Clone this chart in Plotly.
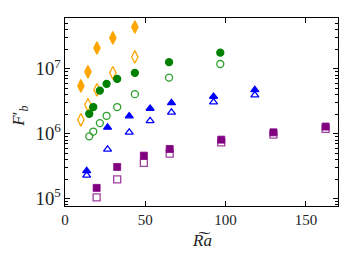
import plotly.graph_objects as go

# Orange diamonds
or_x = [9.9, 14.3, 19.9, 29.8, 43.5]
or_filled = [5.47e6, 9.0e6, 2.1e7, 3.0e7, 4.43e7]
or_open = [1.64e6, 2.79e6, 4.75e6, 8.7e6, 1.53e7]

# Green circles
gr_x = [15.1, 17.6, 21.7, 25.9, 32.5, 43.5, 64.8, 96.7]
gr_filled = [2.03e6, 2.58e6, 4.63e6, 5.88e6, 7.0e6, 8.7e6, 1.27e7, 1.78e7]
gr_open = [9.1e5, 1.08e6, 1.46e6, 1.89e6, 2.58e6, 4.08e6, 7.35e6, 1.19e7]

# Blue triangles
bl_x = [13.5, 26.5, 40.0, 53.0, 66.3, 92.5, 118.2]
bl_filled = [2.67e5, 1.25e6, 1.87e6, 2.45e6, 3.0e6, 3.75e6, 4.75e6]
bl_open = [2.28e5, 5.73e5, 1.05e6, 1.58e6, 2.13e6, 3.08e6, 3.94e6]

# Purple squares
pu_x = [19.7, 32.5, 49.1, 65.2, 97.3, 129.8, 162.3]
pu_filled = [1.46e5, 3.07e5, 4.59e5, 5.82e5, 8.1e5, 1.05e6, 1.29e6]
pu_open = [1.04e5, 1.98e5, 3.54e5, 4.92e5, 7.35e5, 9.7e5, 1.19e6]

x_label = "<i>R͠a</i>"
y_label = "<i>F</i>′<sub><i>b</i></sub>"

fig = go.Figure()

def add(x, y, symbol, color, size, lw=1.3):
    fig.add_trace(go.Scatter(x=x, y=y, mode="markers",
                             marker=dict(symbol=symbol, color=color, size=size,
                                         line=dict(color=color, width=lw)),
                             showlegend=False))

add(or_x, or_open, "diamond-tall-open", "#FFA500", 9)
add(or_x, or_filled, "diamond-tall", "#FFA500", 9)
add(gr_x, gr_open, "circle-open", "#2ca02c", 7)
add(gr_x, gr_filled, "circle", "#008000", 7)
add(bl_x, bl_open, "triangle-up-open", "#0000FF", 7)
add(bl_x, bl_filled, "triangle-up", "#0000FF", 7)
add(pu_x, pu_open, "square-open", "#a040a0", 7)
add(pu_x, pu_filled, "square", "#800080", 7, lw=0.8)

font = dict(family="Liberation Serif, DejaVu Serif, serif", size=15, color="#222")

fig.update_layout(
    width=349, height=260,
    margin=dict(l=57, r=18.5, t=10, b=61.5),
    paper_bgcolor="white", plot_bgcolor="white",
    font=font,
    annotations=[
        dict(text=x_label, xref="paper", yref="paper", x=0.5, y=-0.183,
             xanchor="center", yanchor="middle", showarrow=False, font=dict(size=17)),
        dict(text=y_label, xref="paper", yref="paper", x=-0.165, y=0.48,
             xanchor="center", yanchor="middle", showarrow=False, textangle=-90,
             font=dict(size=17)),
    ],
)
fig.update_xaxes(
    range=[0, 170], tickvals=[0, 50, 100, 150], ticks="inside", ticklen=5,
    showline=True, linecolor="black", linewidth=1.2, mirror="allticks",
    showgrid=False, zeroline=False, tickcolor="black", automargin=False,
)
fig.update_yaxes(
    type="log", range=[4.885, 7.785], dtick=1, exponentformat="power",
    ticks="inside", ticklen=5, tickcolor="black",
    minor=dict(ticks="inside", ticklen=2.5, dtick="D1", tickcolor="black", showgrid=False),
    showline=True, linecolor="black", linewidth=1.2, mirror="allticks",
    showgrid=False, zeroline=False, automargin=False,
)

fig.write_html("out.html")
